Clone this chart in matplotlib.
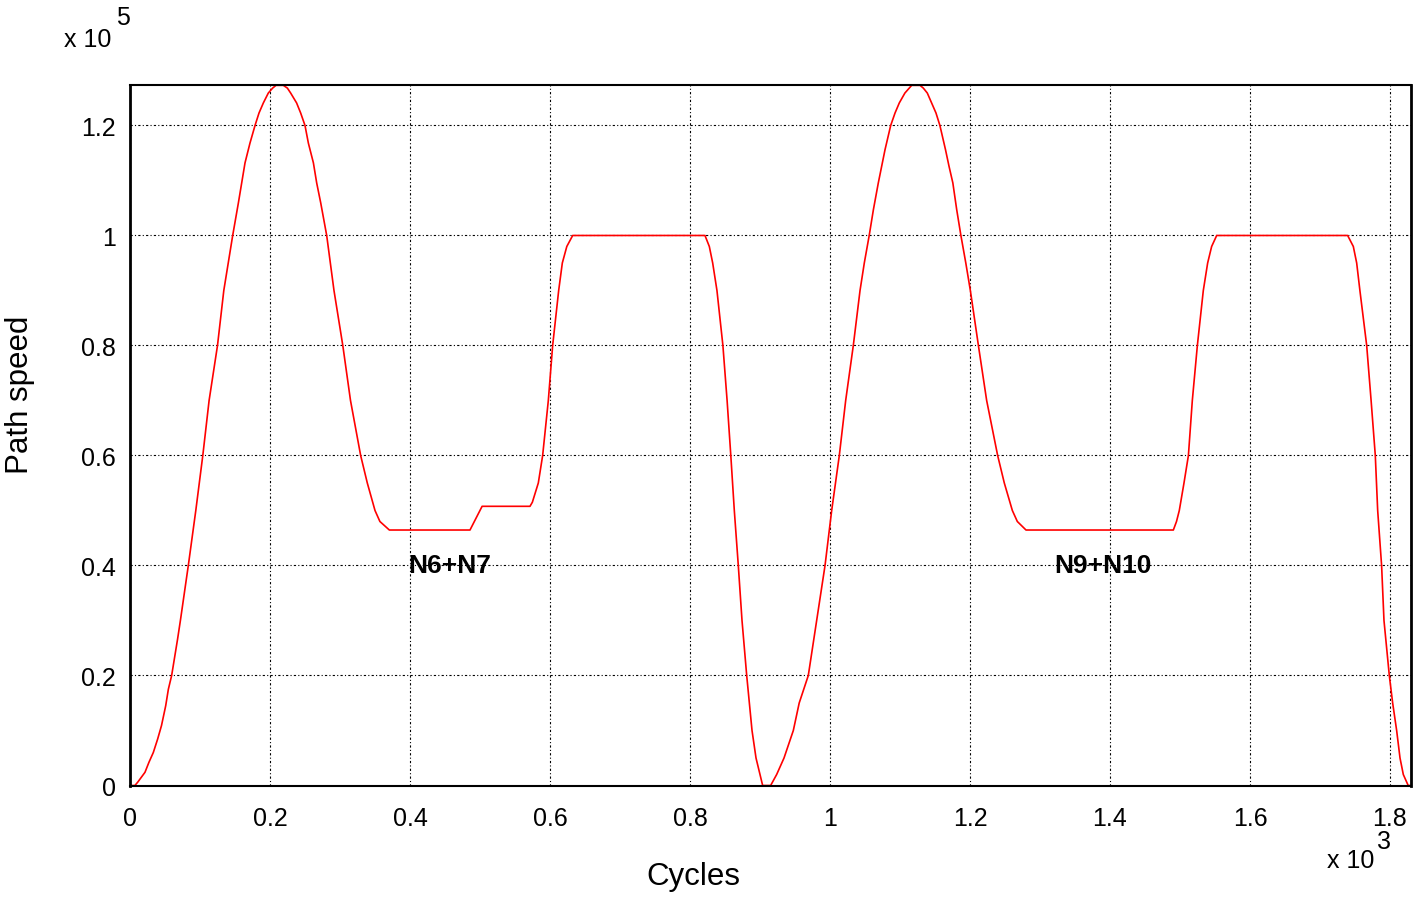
import matplotlib
matplotlib.use("Agg")
import matplotlib.pyplot as plt
from matplotlib.ticker import FixedLocator

plt.rcParams['font.family'] = ['Liberation Sans', 'DejaVu Sans']

# Cycles (x 10^3)
cycles = [0, 0.007, 0.011, 0.0214, 0.027, 0.0333, 0.0395, 0.045, 0.051, 0.0548,
          0.0595, 0.068, 0.072, 0.0833, 0.094, 0.104, 0.113, 0.125, 0.134, 0.1467,
          0.1548, 0.1595, 0.1643, 0.1714, 0.1786, 0.1843, 0.1905, 0.1976, 0.2038, 0.2086,
          0.219, 0.2248, 0.2295, 0.238, 0.2438, 0.25, 0.2548, 0.262, 0.2667, 0.2725,
          0.281, 0.2914, 0.304, 0.315, 0.3295, 0.339, 0.35, 0.357, 0.3705, 0.4857,
          0.503, 0.5714, 0.5748, 0.5833, 0.5895, 0.5976, 0.6038, 0.6124, 0.6176, 0.624,
          0.6324, 0.8214, 0.8276, 0.8324, 0.8385, 0.847, 0.853, 0.8583, 0.8633, 0.869,
          0.8743, 0.881, 0.8848, 0.8886, 0.8943, 0.9, 0.9038, 0.9152, 0.9238, 0.9343,
          0.9476, 0.956, 0.969, 0.981, 0.9929, 1.0024, 1.0133, 1.0224, 1.0333, 1.0429,
          1.049, 1.056, 1.062, 1.069, 1.0738, 1.0786, 1.0867, 1.0929, 1.099, 1.107,
          1.1133, 1.1167, 1.1286, 1.1333, 1.139, 1.1452, 1.1514, 1.157, 1.165, 1.170,
          1.1755, 1.181, 1.187, 1.194, 1.2005, 1.212, 1.2238, 1.2395, 1.249, 1.2605,
          1.2676, 1.28, 1.4905, 1.495, 1.499, 1.5057, 1.512, 1.5176, 1.5248, 1.5333,
          1.5395, 1.5452, 1.5524, 1.7395, 1.7476, 1.7524, 1.757, 1.7667, 1.773, 1.779,
          1.7824, 1.788, 1.7914, 1.799, 1.8038, 1.8095, 1.8143, 1.819, 1.826, 1.829]
# Path speed (x 10^5)
speed = [0, 0, 0.006, 0.024, 0.042, 0.06, 0.0845, 0.109, 0.145, 0.175,
         0.2, 0.2664, 0.3, 0.4, 0.5, 0.6, 0.7, 0.8, 0.9, 1.0,
         1.059, 1.0955, 1.132, 1.168, 1.2, 1.2227, 1.241, 1.259, 1.268, 1.273,
         1.273, 1.268, 1.259, 1.241, 1.2227, 1.2, 1.168, 1.132, 1.0955, 1.059,
         1.0, 0.9, 0.8, 0.7, 0.6, 0.55, 0.5, 0.48, 0.4645, 0.4645,
         0.5076, 0.5076, 0.515, 0.55, 0.6, 0.7, 0.8, 0.9, 0.95, 0.98,
         1.0, 1.0, 0.98, 0.95, 0.9, 0.8, 0.7, 0.6, 0.5, 0.4,
         0.3, 0.2, 0.15, 0.1, 0.05, 0.02, 0, 0, 0.02, 0.05,
         0.1, 0.15, 0.2, 0.3, 0.4, 0.5, 0.6, 0.7, 0.8, 0.9,
         0.95, 1.0, 1.047, 1.0955, 1.126, 1.156, 1.2, 1.2227, 1.241, 1.259,
         1.268, 1.273, 1.273, 1.268, 1.259, 1.241, 1.2227, 1.2, 1.156, 1.126,
         1.0955, 1.047, 1.0, 0.95, 0.9, 0.8, 0.7, 0.6, 0.55, 0.5,
         0.48, 0.4645, 0.4645, 0.48, 0.5, 0.55, 0.6, 0.7, 0.8, 0.9,
         0.95, 0.98, 1.0, 1.0, 0.98, 0.95, 0.9, 0.8, 0.7, 0.6,
         0.5, 0.4, 0.3, 0.2, 0.15, 0.1, 0.05, 0.02, 0, 0]

x_ticks = [0, 0.2, 0.4, 0.6, 0.8, 1.0, 1.2, 1.4, 1.6, 1.8]
x_tick_labels = ["0", "0.2", "0.4", "0.6", "0.8", "1", "1.2", "1.4", "1.6", "1.8"]
y_ticks = [0, 0.2, 0.4, 0.6, 0.8, 1.0, 1.2]
y_tick_labels = ["0", "0.2", "0.4", "0.6", "0.8", "1", "1.2"]

annotations = ["N6+N7", "N9+N10"]
annot_x = [0.397, 1.321]
annot_y = [0.40, 0.40]

fig = plt.figure(figsize=(14.27, 9.04), dpi=100)
ax = fig.add_axes([130 / 1427, (904 - 786.5) / 904, (1411 - 130) / 1427, (786.5 - 86) / 904])

ax.plot(cycles, speed, color='red', lw=1.2)

ax.set_xlim(0, 1.83)
ax.set_ylim(0, 1.2736)
ax.xaxis.set_major_locator(FixedLocator(x_ticks))
ax.yaxis.set_major_locator(FixedLocator(y_ticks))
ax.set_xticklabels(x_tick_labels)
ax.set_yticklabels(y_tick_labels)
ax.tick_params(length=0, labelsize=18)
ax.tick_params(axis='x', pad=15)
ax.tick_params(axis='y', pad=10)
ax.grid(True, color='black', linestyle=(0, (2, 2, 1, 2)), lw=0.8)

for side in ['left', 'right']:
    ax.spines[side].set_linewidth(2.0)
for side in ['top', 'bottom']:
    ax.spines[side].set_linewidth(1.5)

for t, xx, yy in zip(annotations, annot_x, annot_y):
    ax.text(xx, yy, t, fontsize=19, fontweight='bold', ha='left', va='center')

fig.text(20 / 1427, 1 - 395 / 904, "Path speed", rotation=90, fontsize=22.5,
         ha='center', va='center')
fig.text(693 / 1427, 1 - 877 / 904, "Cycles", fontsize=22.5, ha='center', va='center')

fig.text(64 / 1427, 1 - 40 / 904, "x 10", fontsize=18, ha='left', va='center')
fig.text(116 / 1427, 1 - 18 / 904, "5", fontsize=18, ha='left', va='center')
fig.text(1327 / 1427, 1 - 861 / 904, "x 10", fontsize=18, ha='left', va='center')
fig.text(1377 / 1427, 1 - 842 / 904, "3", fontsize=18, ha='left', va='center')

fig.savefig("out.png", dpi=100)
